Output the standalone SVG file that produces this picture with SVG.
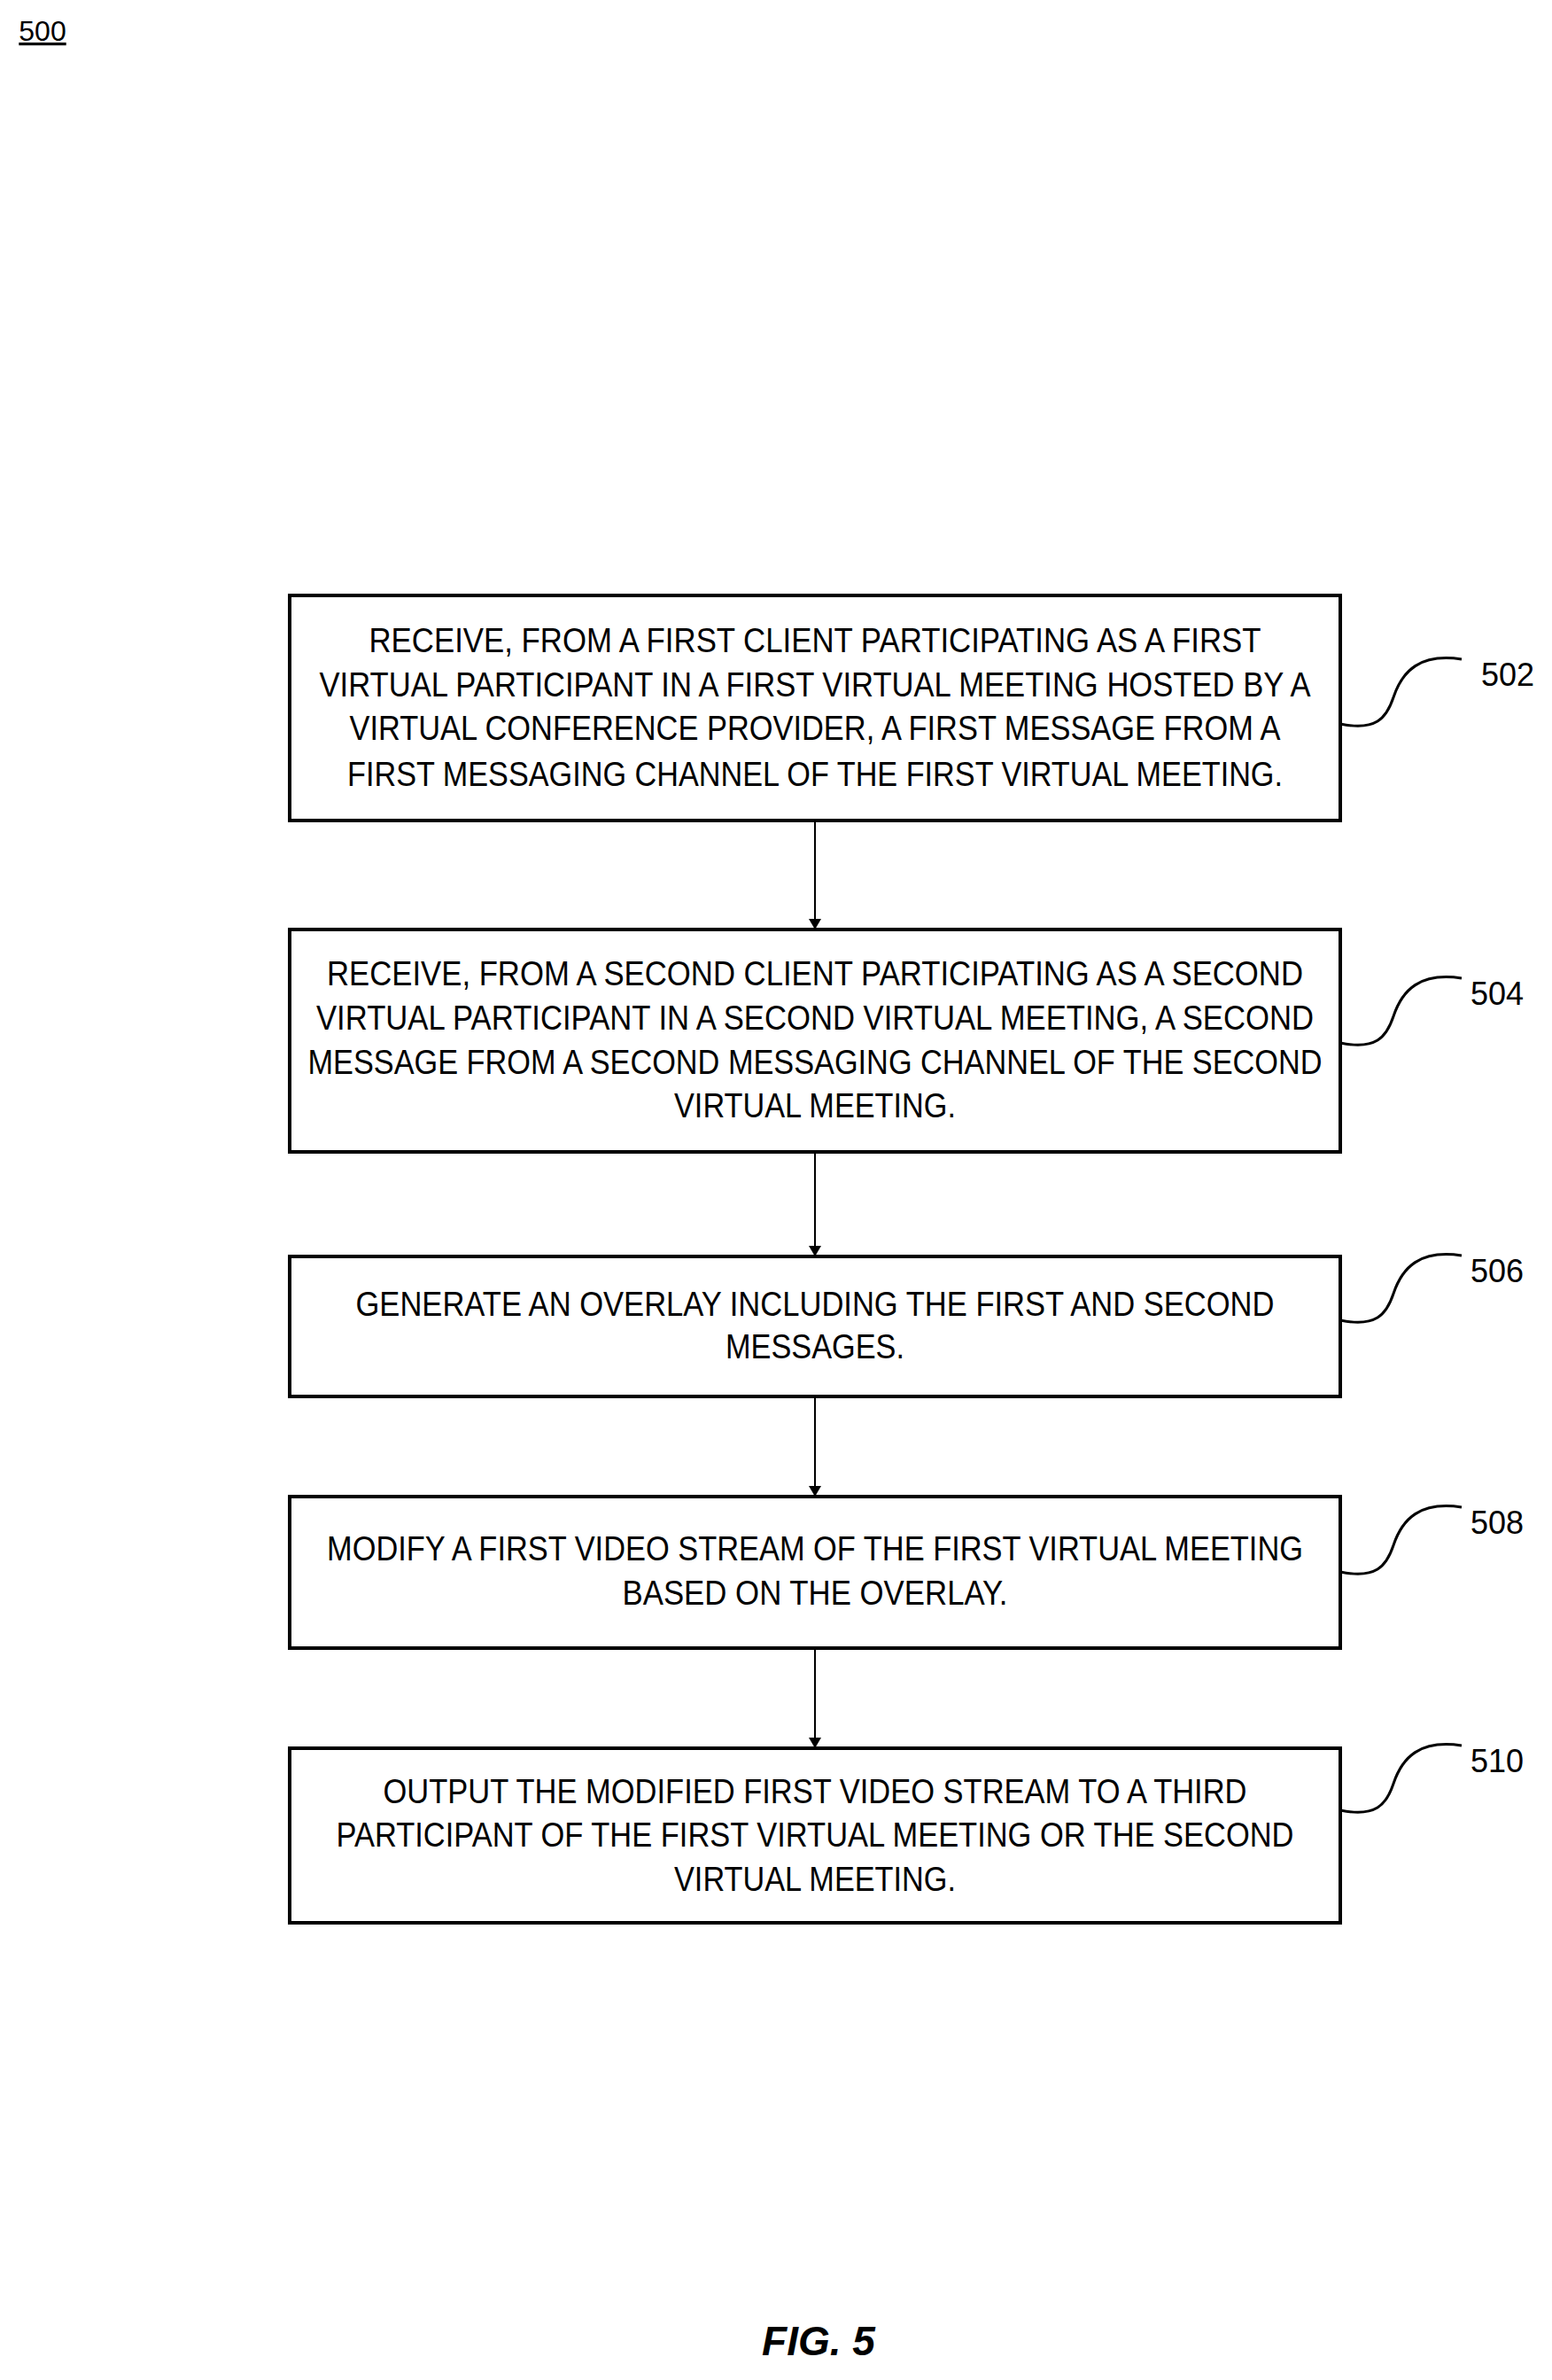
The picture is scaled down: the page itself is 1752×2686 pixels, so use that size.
<svg xmlns="http://www.w3.org/2000/svg" width="1752" height="2686" viewBox="0 0 1752 2686">
<style>
.box{fill:#fff;stroke:#000;stroke-width:4}
.t{font-family:"Liberation Sans",Arial,sans-serif;font-size:38px;text-anchor:middle;fill:#000}
.lbl{font-family:"Liberation Sans",Arial,sans-serif;font-size:36px;text-anchor:middle;fill:#000}
.sq{fill:none;stroke:#000;stroke-width:3}
.c{stroke:#000;stroke-width:2;fill:none}
</style>
<defs><marker id="ah" markerWidth="12" markerHeight="24" refX="12" refY="12" orient="auto" markerUnits="userSpaceOnUse"><path d="M0,5 L12,12 L0,19 Z" fill="#000"/></marker>
<path id="sq" d="M0,0 C40,8 52,-6 60,-30 C70,-60 90,-80 137,-73"/></defs>
<text x="48" y="46" class="lbl" text-decoration="underline" style="font-size:32px">500</text>
<g id="connectors">
<line class="c" x1="920" y1="926" x2="920" y2="1049" marker-end="url(#ah)"/>
<line class="c" x1="920" y1="1300" x2="920" y2="1418" marker-end="url(#ah)"/>
<line class="c" x1="920" y1="1576" x2="920" y2="1689" marker-end="url(#ah)"/>
<line class="c" x1="920" y1="1860" x2="920" y2="1973" marker-end="url(#ah)"/>
</g>
<g id="n502"><rect class="box" x="327" y="672" width="1186" height="254"/>
<text class="t" x="920" y="736" textLength="1007" lengthAdjust="spacingAndGlyphs">RECEIVE, FROM A FIRST CLIENT PARTICIPATING AS A FIRST</text>
<text class="t" x="920" y="786" textLength="1119" lengthAdjust="spacingAndGlyphs">VIRTUAL PARTICIPANT IN A FIRST VIRTUAL MEETING HOSTED BY A</text>
<text class="t" x="920" y="835" textLength="1051" lengthAdjust="spacingAndGlyphs">VIRTUAL CONFERENCE PROVIDER, A FIRST MESSAGE FROM A</text>
<text class="t" x="920" y="887" textLength="1056" lengthAdjust="spacingAndGlyphs">FIRST MESSAGING CHANNEL OF THE FIRST VIRTUAL MEETING.</text>
<use href="#sq" class="sq" x="1513" y="817"/><text class="lbl" x="1702" y="774">502</text></g>
<g id="n504"><rect class="box" x="327" y="1049" width="1186" height="251"/>
<text class="t" x="920" y="1112" textLength="1102" lengthAdjust="spacingAndGlyphs">RECEIVE, FROM A SECOND CLIENT PARTICIPATING AS A SECOND</text>
<text class="t" x="920" y="1162" textLength="1126" lengthAdjust="spacingAndGlyphs">VIRTUAL PARTICIPANT IN A SECOND VIRTUAL MEETING, A SECOND</text>
<text class="t" x="920" y="1212" textLength="1145" lengthAdjust="spacingAndGlyphs">MESSAGE FROM A SECOND MESSAGING CHANNEL OF THE SECOND</text>
<text class="t" x="920" y="1261" textLength="318" lengthAdjust="spacingAndGlyphs">VIRTUAL MEETING.</text>
<use href="#sq" class="sq" x="1513" y="1177"/><text class="lbl" x="1690" y="1134">504</text></g>
<g id="n506"><rect class="box" x="327" y="1418" width="1186" height="158"/>
<text class="t" x="920" y="1485" textLength="1037" lengthAdjust="spacingAndGlyphs">GENERATE AN OVERLAY INCLUDING THE FIRST AND SECOND</text>
<text class="t" x="920" y="1533" textLength="202" lengthAdjust="spacingAndGlyphs">MESSAGES.</text>
<use href="#sq" class="sq" x="1513" y="1490"/><text class="lbl" x="1690" y="1447">506</text></g>
<g id="n508"><rect class="box" x="327" y="1689" width="1186" height="171"/>
<text class="t" x="920" y="1761" textLength="1102" lengthAdjust="spacingAndGlyphs">MODIFY A FIRST VIDEO STREAM OF THE FIRST VIRTUAL MEETING</text>
<text class="t" x="920" y="1811" textLength="435" lengthAdjust="spacingAndGlyphs">BASED ON THE OVERLAY.</text>
<use href="#sq" class="sq" x="1513" y="1774"/><text class="lbl" x="1690" y="1731">508</text></g>
<g id="n510"><rect class="box" x="327" y="1973" width="1186" height="197"/>
<text class="t" x="920" y="2035" textLength="975" lengthAdjust="spacingAndGlyphs">OUTPUT THE MODIFIED FIRST VIDEO STREAM TO A THIRD</text>
<text class="t" x="920" y="2084" textLength="1081" lengthAdjust="spacingAndGlyphs">PARTICIPANT OF THE FIRST VIRTUAL MEETING OR THE SECOND</text>
<text class="t" x="920" y="2134" textLength="318" lengthAdjust="spacingAndGlyphs">VIRTUAL MEETING.</text>
<use href="#sq" class="sq" x="1513" y="2043"/><text class="lbl" x="1690" y="2000">510</text></g>
<text x="924" y="2658" class="lbl" style="font-size:46px;font-weight:bold;font-style:italic">FIG. 5</text>
</svg>
